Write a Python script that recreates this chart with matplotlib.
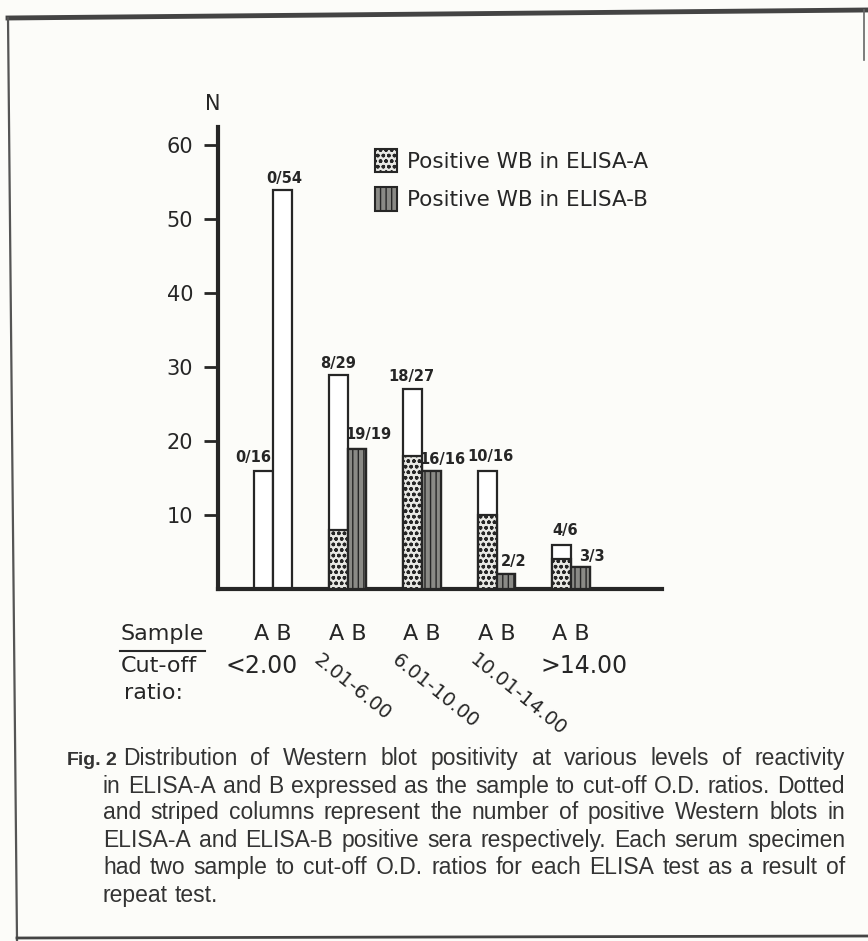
import matplotlib
matplotlib.use("Agg")
import matplotlib.pyplot as plt
from matplotlib.patches import Patch
from matplotlib.lines import Line2D
import numpy as np

# ---- data ----
groups = ["<2.00", "2.01-6.00", "6.01-10.00", "10.01-14.00", ">14.00"]
a_total = [16, 29, 27, 16, 6]
a_pos = [0, 8, 18, 10, 4]
b_total = [54, 19, 16, 2, 3]
b_pos = [0, 19, 16, 2, 3]
yticks = [10, 20, 30, 40, 50, 60]
legend_labels = ["Positive WB in ELISA-A", "Positive WB in ELISA-B"]
caption_lines = [
    "Distribution of Western blot positivity at various levels of reactivity",
    "in ELISA-A and B expressed as the sample to cut-off O.D. ratios. Dotted",
    "and striped columns represent the number of positive Western blots in",
    "ELISA-A and ELISA-B positive sera respectively. Each serum specimen",
    "had two sample to cut-off O.D. ratios for each ELISA test as a result of",
    "repeat test.",
]

W, H = 868, 941
BG = "#fcfcf9"
plt.rcParams["font.family"] = ["DejaVu Sans"]
plt.rcParams["hatch.linewidth"] = 1.0

fig = plt.figure(figsize=(W / 100, H / 100), dpi=100, facecolor=BG)

def fx(px):
    return px / W

def fy(py):
    return 1 - py / H

# axes: x 218..662 px, y 127..589 px
ax = fig.add_axes([fx(218), fy(589), fx(662) - fx(218), fy(127) - fy(589)])
ax.set_facecolor("none")
ax.set_xlim(-0.738, 5.22)
ax.set_ylim(0, 62.5)

x = np.arange(len(groups))
w = 0.25
xa = x - w / 2
xb = x + w / 2

ink = "#262626"
# totals (white)
ax.bar(xa, a_total, width=w, color="white", edgecolor=ink, linewidth=1.6, zorder=2)
ax.bar(xb, b_total, width=w, color="white", edgecolor=ink, linewidth=1.6, zorder=2)
# positives
ax.bar(xa, a_pos, width=w, color="#e8e8e4", edgecolor=ink, linewidth=1.6,
       hatch="ooo", zorder=3)
ax.bar(xb, b_pos, width=w, color="#8a8a86", edgecolor=ink, linewidth=1.6,
       hatch="|||", zorder=3)

# fraction labels
a_offsets = [(-10, 13), (0, 11), (-1, 13), (3, 14), (3, 14)]
b_offsets = [(2, 11), (12, 14), (11, 11), (8, 13), (11, 10)]
for i in range(len(groups)):
    ax.annotate(f"{a_pos[i]}/{a_total[i]}", (xa[i], a_total[i]),
                xytext=a_offsets[i], textcoords="offset pixels",
                ha="center", va="center", fontsize=10.5, fontweight="bold",
                color=ink, zorder=5)
    ax.annotate(f"{b_pos[i]}/{b_total[i]}", (xb[i], b_total[i]),
                xytext=b_offsets[i], textcoords="offset pixels",
                ha="center", va="center", fontsize=10.5, fontweight="bold",
                color=ink, zorder=5)

# spines & ticks
for s in ["top", "right"]:
    ax.spines[s].set_visible(False)
for s in ["left", "bottom"]:
    ax.spines[s].set_linewidth(3)
    ax.spines[s].set_color(ink)
ax.set_yticks(yticks)
ax.set_yticklabels([str(v) for v in yticks], fontsize=15, color=ink)
ax.tick_params(axis="y", length=10, width=2, pad=8, color=ink)
ax.set_xticks([])

# legend
handles = [
    Patch(facecolor="#e8e8e4", edgecolor=ink, hatch="ooo", linewidth=1.5),
    Patch(facecolor="#8a8a86", edgecolor=ink, hatch="|||", linewidth=1.5),
]
ax.legend(handles, legend_labels, loc="upper left", bbox_to_anchor=(0.31, 0.995),
          frameon=False, fontsize=15.5, handlelength=1.0, handleheight=1.3,
          handletextpad=0.5, labelspacing=0.7, labelcolor=ink)

# N label
fig.text(fx(213), fy(104), "N", ha="center", va="center", fontsize=15, color=ink)

# Sample / cut-off labels
fig.text(fx(121), fy(634), "Sample", ha="left", va="center", fontsize=16, color=ink)
fig.add_artist(Line2D([fx(120), fx(205)], [fy(651), fy(651)], color=ink, linewidth=1.5))
fig.text(fx(121), fy(666), "Cut-off", ha="left", va="center", fontsize=16, color=ink)
fig.text(fx(124), fy(693), "ratio:", ha="left", va="center", fontsize=16, color=ink)

# AB labels and category labels
centers_px = [ax.transData.transform((xi, 0))[0] for xi in x]
for i, g in enumerate(groups):
    cx = centers_px[i]
    fig.text(cx / W, fy(634), "A B", ha="center", va="center", fontsize=16, color=ink)
rot_groups = {1: (322, 650), 2: (400, 650), 3: (478, 650)}
fig.text(fx(262), fy(666), groups[0], ha="center", va="center", fontsize=17, color=ink)
fig.text(fx(584), fy(666), groups[4], ha="center", va="center", fontsize=17, color=ink)
for i, (px, py) in rot_groups.items():
    fig.text(fx(px), fy(py), groups[i], ha="left", va="top", fontsize=14,
             rotation=-39, rotation_mode="anchor", color=ink)

# caption (justified, as in the printed figure)
cap_font = ["Liberation Sans", "DejaVu Sans"]
cap_color = "#333333"
cap_size = 16.5
cap_base = [765, 793, 819, 847, 874, 902]   # baselines (px from top)
cap_right = 845
fig.text(fx(67), fy(cap_base[0]), "Fig.", ha="left", va="baseline", fontsize=14,
         fontweight="bold", family=cap_font, color=cap_color)
fig.text(fx(105), fy(cap_base[0]), "2", ha="left", va="baseline", fontsize=14,
         fontweight="bold", family=cap_font, color=cap_color)
renderer = fig.canvas.get_renderer()
t1 = fig.text(0, 0, "a a", fontsize=cap_size, family=cap_font)
t2 = fig.text(0, 0, "aa", fontsize=cap_size, family=cap_font)
sp_w = t1.get_window_extent(renderer).width - t2.get_window_extent(renderer).width
t1.remove()
t2.remove()
for k, line in enumerate(caption_lines):
    left = 123 if k == 0 else 103
    words = line.split(" ")
    objs = [fig.text(0, fy(cap_base[k]), wd, ha="left", va="baseline",
                     fontsize=cap_size, family=cap_font, color=cap_color)
            for wd in words]
    widths = [o.get_window_extent(renderer).width for o in objs]
    if k < len(caption_lines) - 1 and len(words) > 1:
        gap = (cap_right - left - sum(widths)) / (len(words) - 1)
    else:
        gap = sp_w
    xpos = left
    for o, wdt in zip(objs, widths):
        o.set_x(fx(xpos))
        xpos += wdt + gap

# page border
fig.add_artist(Line2D([fx(8), fx(866)], [fy(18), fy(10)], color="#444444", linewidth=3.5))
fig.add_artist(Line2D([fx(8), fx(17)], [fy(18), fy(940)], color="#555555", linewidth=1.6))
fig.add_artist(Line2D([fx(864), fx(864)], [fy(10), fy(60)], color="#666666", linewidth=1.2))
fig.add_artist(Line2D([fx(17), fx(868)], [fy(938), fy(936)], color="#444444", linewidth=2))

fig.savefig("out.png", dpi=100, facecolor=BG)
